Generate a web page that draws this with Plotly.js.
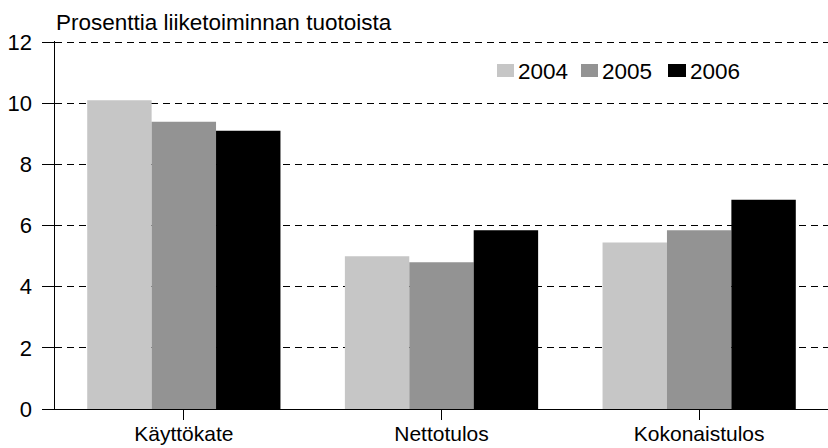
<!DOCTYPE html>
<html>
<head>
<meta charset="utf-8">
<script src="https://cdn.plot.ly/plotly-3.0.1.min.js"></script>
<style>html,body{margin:0;padding:0;background:#fff;}#chart{width:828px;height:448px;}</style>
</head>
<body>
<div id="chart"></div>
<script>
const categories = ["Käyttökate", "Nettotulos", "Kokonaistulos"];
const seriesNames = ["2004", "2005", "2006"];
const values2004 = [10.1, 5.0, 5.45];
const values2005 = [9.4, 4.8, 5.85];
const values2006 = [9.1, 5.85, 6.85];
const yTicks = [0, 2, 4, 6, 8, 10, 12];
const titleText = "Prosenttia liiketoiminnan tuotoista";

const colors = ["#c6c6c6", "#939393", "#000000"];
const allValues = [values2004, values2005, values2006];

const traces = allValues.map((v, i) => ({
  type: "bar",
  name: seriesNames[i],
  x: categories,
  y: v,
  marker: {color: colors[i], line: {width: 0}},
  hoverinfo: "skip"
}));

// custom compact legend (pixel positions converted to paper coords)
const L = 55, W = 773, B = 409, H = 368;
const px = x => (x - L) / W;
const py = y => (B - y) / H;
const legendSw = [[497, 514], [581, 598], [668, 686]];
const shapes = [], annotations = [];
seriesNames.forEach((n, i) => {
  shapes.push({type: "rect", xref: "paper", yref: "paper",
    x0: px(legendSw[i][0]), x1: px(legendSw[i][1]), y0: py(77), y1: py(64),
    fillcolor: colors[i], line: {width: 0}});
  annotations.push({text: n, xref: "paper", yref: "paper", x: px(legendSw[i][1] + 2), y: py(71),
    xanchor: "left", yanchor: "middle", showarrow: false, font: {size: 22.5}});
});
annotations.push({
  text: titleText, xref: "paper", yref: "paper", x: px(54), y: py(22),
  xanchor: "left", yanchor: "middle", showarrow: false, font: {size: 22.5}
});

const layout = {
  width: 828, height: 448,
  margin: {l: L, r: 0, t: 41, b: 39},
  paper_bgcolor: "#fff", plot_bgcolor: "#fff",
  font: {family: "Arial, 'Liberation Sans', sans-serif", color: "#000", size: 22},
  barmode: "group",
  bargap: 0.25, bargroupgap: 0,
  showlegend: false,
  xaxis: {
    type: "category", showline: true, linecolor: "#000", linewidth: 1,
    ticks: "outside", ticklen: 10, tickcolor: "#000", showgrid: false,
    ticklabelstandoff: -4,
    tickfont: {size: 21}, zeroline: false
  },
  yaxis: {
    range: [0, 12.04], tickvals: yTicks, ticktext: yTicks.map(String),
    showline: true, linecolor: "#000", linewidth: 1.5,
    ticks: "outside", ticklen: 12, tickcolor: "#000", tickwidth: 1,
    ticklabelstandoff: 5,
    showgrid: true, gridcolor: "#000", griddash: "7px,5px", gridwidth: 1,
    zeroline: false, tickfont: {size: 22}
  },
  shapes: shapes,
  annotations: annotations
};

Plotly.newPlot("chart", traces, layout, {staticPlot: true, displayModeBar: false});
</script>
</body>
</html>
